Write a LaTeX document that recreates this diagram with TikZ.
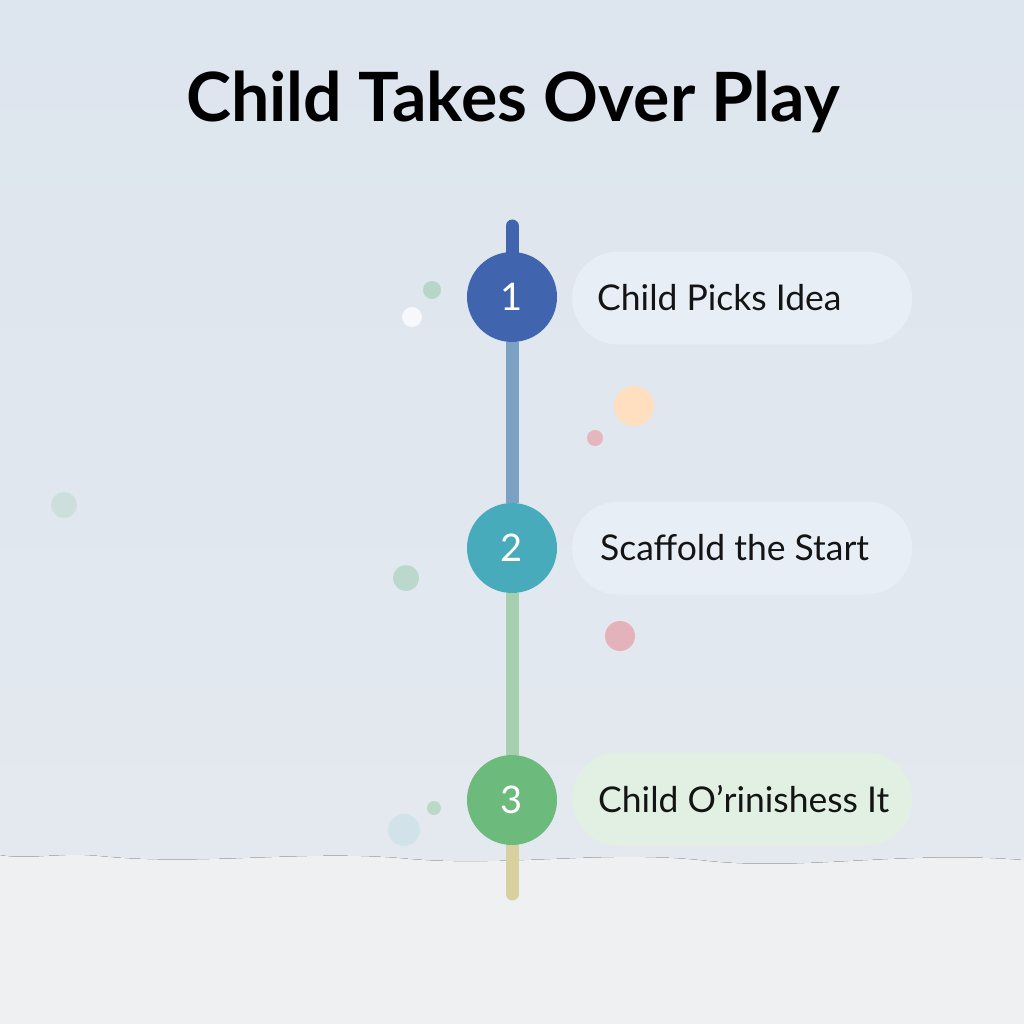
\documentclass[tikz,border=0pt]{standalone}
\usepackage{fontspec}
\setmainfont{Lato}
\usetikzlibrary{calc,backgrounds}
\definecolor{bgtop}{HTML}{DDE5EE}
\definecolor{bgmid}{HTML}{E4E9EF}
\definecolor{bglow}{HTML}{EFF0F2}
\definecolor{cone}{HTML}{4065AE}
\definecolor{ctwo}{HTML}{48ABBB}
\definecolor{cthree}{HTML}{6DBA7D}
\definecolor{segone}{HTML}{7BA2C3}
\definecolor{segtwo}{HTML}{A6CFB0}
\definecolor{segthree}{HTML}{D9D0A0}
\definecolor{pillblue}{HTML}{E8EEF6}
\definecolor{pillgreen}{HTML}{E2F0E3}
\tikzset{
  stepcircle/.style={circle, minimum size=90pt, inner sep=0pt, text=white, font=\fontsize{38}{38}\selectfont},
  pill/.style={rounded corners=46pt, minimum width=340pt, minimum height=93pt, inner sep=0pt, anchor=west},
  pilltext/.style={anchor=west, inner sep=0pt, font=\fontsize{35.5}{36}\selectfont, text=black!92},
  seg/.style={line width=13pt},
  dot/.style={circle, inner sep=0pt}
}
\begin{document}
\begin{tikzpicture}[x=1pt,y=-1pt]
\useasboundingbox (0,0) rectangle (1024,1024);
% title
\node (title) at (513,102) {\fontsize{68}{68}\selectfont\bfseries Child Takes Over Play};
% decorative dots
\node[dot, fill=cthree!35!bgtop, minimum size=18pt] (d1) at (432,290) {};
\node[dot, fill=white!75!bgtop, minimum size=20pt] (d2) at (412,317) {};
\node[dot, fill=orange!25!white, minimum size=40pt] (d3) at (634,406) {};
\node[dot, fill=red!20!bgtop, minimum size=16pt] (d4) at (595,438) {};
\node[dot, fill=cthree!30!bgtop, minimum size=26pt] (d5) at (406,578) {};
\node[dot, fill=red!22!bgtop, minimum size=30pt] (d6) at (620,636) {};
\node[dot, fill=cthree!35!bgmid, minimum size=14pt] (d7) at (434,808) {};
\node[dot, fill=ctwo!12!bgmid, minimum size=32pt] (d8) at (404,830) {};
\node[dot, fill=cthree!15!bgtop, minimum size=26pt] (d9) at (64,505) {};
% step circles
\node[stepcircle, fill=cone] (s1) at (512,297) {1};
\node[stepcircle, fill=ctwo] (s2) at (512,548) {2};
\node[stepcircle, fill=cthree] (s3) at (512,800) {3};
\coordinate (top) at (512,226);
\coordinate (bot) at (512,894);
% labels
\node[pill, fill=pillblue] (l1) at (572,298) {};
\node[pill, fill=pillblue] (l2) at (572,548) {};
\node[pill, fill=pillgreen] (l3) at (572,799) {};
\node[pilltext] (t1) at ($(l1.west)+(25,0)$) {Child Picks Idea};
\node[pilltext] (t2) at ($(l2.west)+(28,0)$) {Scaffold the Start};
\node[pilltext] (t3) at ($(l3.west)+(26,0)$) {Child O’rinishess It};
\begin{scope}[on background layer]
% background
\fill[bglow] (0,0) rectangle (1024,1024);
\fill[top color=bgtop, bottom color=bgmid] (0,0) -- (1024,0) -- (1024,860)
  .. controls (900,850) and (800,872) .. (700,860)
  .. controls (600,850) and (500,868) .. (400,858)
  .. controls (300,850) and (200,866) .. (100,856)
  .. controls (60,852) and (30,860) .. (0,855) -- cycle;
% timeline segments
\draw[seg, cone, line cap=round] (top) -- (s1.center);
\draw[seg, segone] (s1) -- (s2);
\draw[seg, segtwo] (s2) -- (s3);
\draw[seg, segthree, line cap=round] (s3.center) -- (bot);
\end{scope}
\end{tikzpicture}
\end{document}
